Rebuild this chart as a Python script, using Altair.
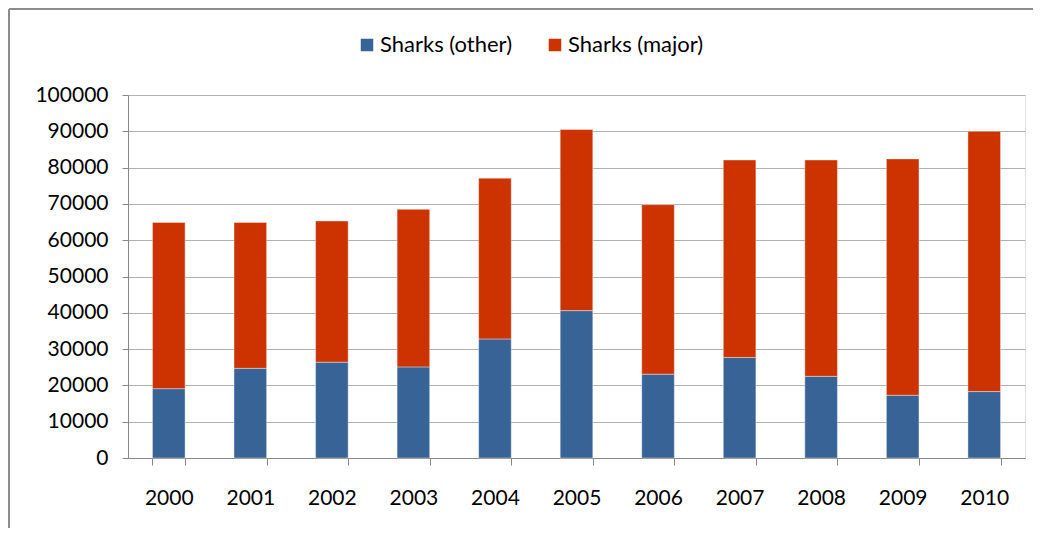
import altair as alt
import pandas as pd

years = ["2000", "2001", "2002", "2003", "2004", "2005", "2006", "2007", "2008", "2009", "2010"]
sharks_other = [19100, 24700, 26400, 25100, 32800, 40600, 23100, 27700, 22500, 17300, 18300]
sharks_major = [45800, 40200, 38900, 43400, 44300, 49900, 46700, 54400, 59600, 65100, 71700]
series = ["Sharks (other)", "Sharks (major)"]
colors = ["#386396", "#CC3300"]

rows = []
for y, o, m in zip(years, sharks_other, sharks_major):
    rows.append({"year": y, "series": series[0], "value": o, "ord": 0})
    rows.append({"year": y, "series": series[1], "value": m, "ord": 1})
df = pd.DataFrame(rows)

font = "Lato"

bars = alt.Chart(df).mark_bar(stroke="#ffffff", strokeOpacity=0.5, strokeWidth=0.8).encode(
    x=alt.X("year:N", sort=years, title=None,
            scale=alt.Scale(paddingInner=0.6, paddingOuter=0.3),
            axis=alt.Axis(labelAngle=0, tickBand="extent", labelPadding=22, labelFontSize=21,
                          labelColor="#000000", labelFont=font, domainColor="#888888",
                          tickColor="#888888", tickSize=7, grid=False)),
    y=alt.Y("value:Q", stack="zero", title=None,
            scale=alt.Scale(domain=[0, 100000], nice=False),
            axis=alt.Axis(values=list(range(0, 100001, 10000)), format="d", labelFontSize=21,
                          labelColor="#000000", labelFont=font, labelPadding=14,
                          domainColor="#888888", tickColor="#888888", tickSize=6,
                          gridColor="#b0b0b0", gridWidth=1.2)),
    color=alt.Color("series:N", sort=series,
                    scale=alt.Scale(domain=series, range=colors),
                    legend=alt.Legend(orient="none", legendX=228, legendY=-61, direction="horizontal",
                                      title=None, symbolType="square", symbolSize=156,
                                      labelFontSize=22, labelFont=font, labelColor="#000000",
                                      columnPadding=32, symbolStrokeWidth=0, labelOffset=2)),
    order=alt.Order("ord:Q"),
)

# outer chart frame (top and left edges, as in the reference)
frame_top = alt.Chart(df).mark_rule(color="#8c8c8c", strokeWidth=2).encode(
    x=alt.value(-119), x2=alt.value(905), y=alt.value(-86)
)
frame_left = alt.Chart(df).mark_rule(color="#8c8c8c", strokeWidth=2).encode(
    x=alt.value(-119), y=alt.value(-86), y2=alt.value(433)
)

chart = alt.layer(bars, frame_top, frame_left).properties(
    width=897, height=363,
    autosize=alt.AutoSizeParams(type="none"),
    padding={"left": 120, "top": 87, "right": 8, "bottom": 70},
).configure_view(stroke=None).configure(background="#ffffff")

chart.save("out.html", embed_options={"renderer": "svg", "actions": False})
